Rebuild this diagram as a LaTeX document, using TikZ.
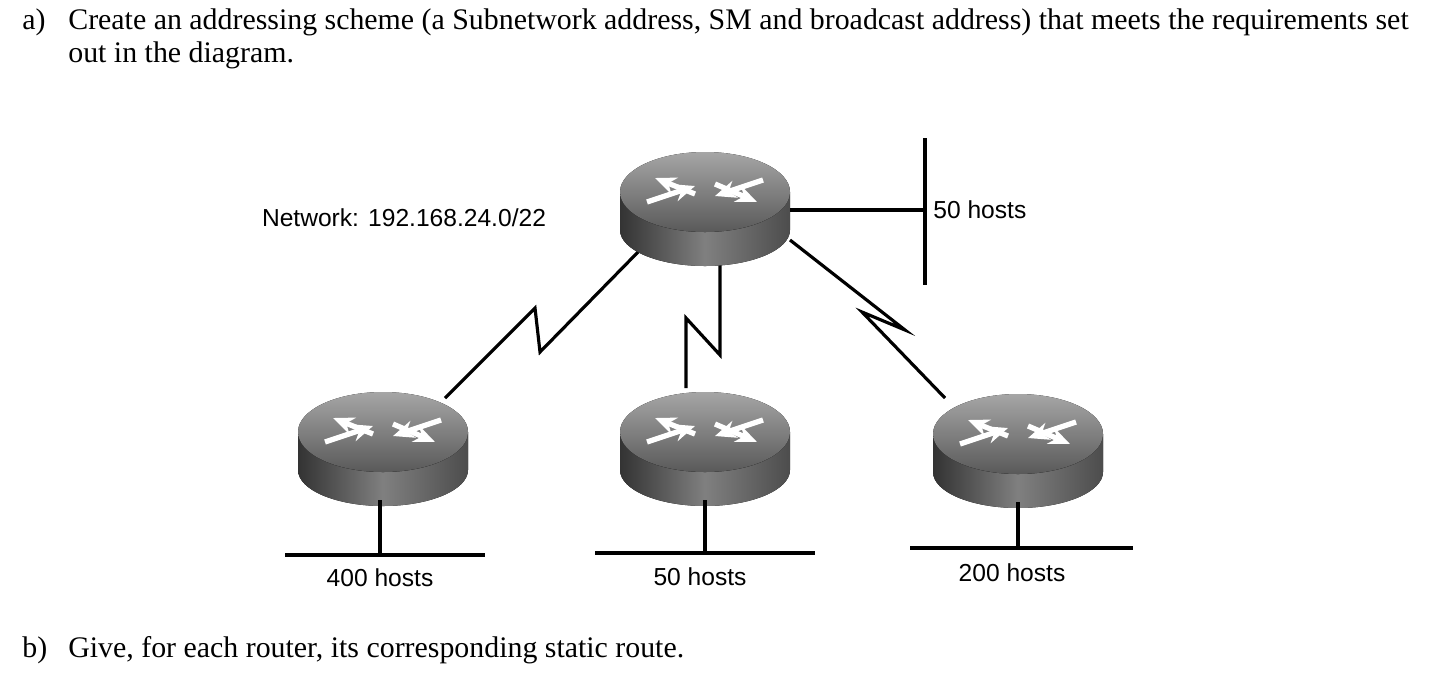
\documentclass[tikz,border=0pt]{standalone}
\usepackage{fontspec}
\setmainfont{Liberation Serif}
\setsansfont{Liberation Sans}
\usetikzlibrary{arrows.meta}
\begin{document}
\begin{tikzpicture}[x=0.02cm,y=-0.02cm,
  txt/.style={font=\fontsize{17}{20}\selectfont,anchor=west,inner sep=0},
  lab/.style={font=\sffamily\fontsize{14}{17}\selectfont,inner sep=0},
  wire/.style={line width=1.8pt,black},
  bar/.style={line width=2.4pt,black}]
\useasboundingbox (0,0) rectangle (1452,681);
\newcommand{\router}[3]{%
 \begin{scope}[shift={(#1,#2)}]
  \coordinate (#3) at (0,0);
  \fill[left color=black!80,right color=black!70,middle color=black!50] (-85,-18) -- (-85,20) arc[start angle=180,end angle=0,x radius=85,y radius=36] -- (85,-18) -- cycle;
  \fill[top color=black!35,bottom color=black!65] (0,-18) ellipse[x radius=85,y radius=40];
  \begin{scope}[shift={(0,-18)},line width=3pt,white,-{Stealth[length=12pt,width=10pt]}]
   \draw (-58,10) -- (-10,-6);
   \draw (58,-12) -- (10,4);
   \draw (-10,2) -- (-50,-14);
   \draw (10,-8) -- (52,10);
  \end{scope}
 \end{scope}}
\node[txt] (qa) at (22,22) {a)};
\node[txt] (q1) at (68,22) {Create an addressing scheme (a Subnetwork address, SM and broadcast address) that meets the requirements set};
\node[txt] (q2) at (68,55) {out in the diagram.};
\node[txt] (qb) at (22,650) {b)};
\node[txt] (q3) at (68,650) {Give, for each router, its corresponding static route.};
\node[lab] (net) at (404,218) {Network: 192.168.24.0/22};
% wires
\draw[wire] (640,250) -- (540,352) -- (535,308) -- (445,398);
\draw[wire] (720,265) -- (720,355) -- (686,318) -- (686,388);
\draw[wire] (790,240) -- (905,330) -- (862,312) -- (945,398);
\draw[wire] (790,210) -- (925,210);
\draw[bar] (925,138) -- (925,285);
\node[lab,anchor=west] (h1) at (933,210) {50 hosts};
\router{705}{210}{r0}
\router{383}{450}{r1}
\router{705}{450}{r2}
\router{1018}{452}{r3}
\draw[wire] (380,500) -- (380,555);
\draw[bar] (285,555) -- (485,555);
\node[lab] (h2) at (380,578) {400 hosts};
\draw[wire] (705,500) -- (705,553);
\draw[bar] (595,553) -- (815,553);
\node[lab] (h3) at (700,577) {50 hosts};
\draw[wire] (1018,502) -- (1018,548);
\draw[bar] (910,548) -- (1133,548);
\node[lab] (h4) at (1012,573) {200 hosts};
\end{tikzpicture}
\end{document}
